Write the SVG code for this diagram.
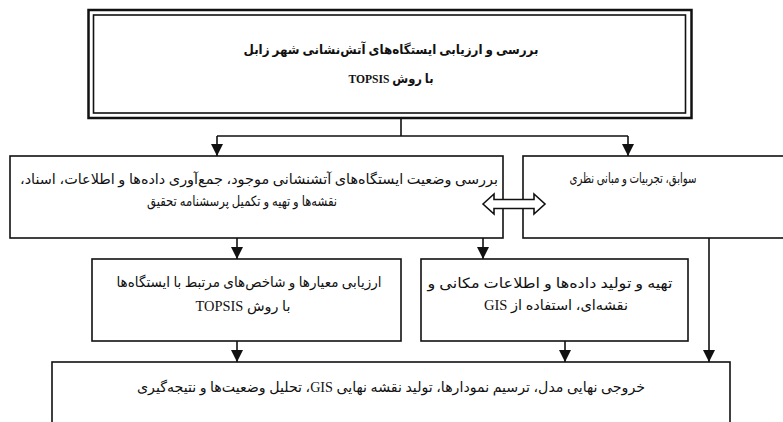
<svg xmlns="http://www.w3.org/2000/svg" width="783" height="422" viewBox="0 0 783 422">
<defs>
<style>
.box{fill:#fff;stroke:#111;stroke-width:1.6}
.outer{fill:#fff;stroke:#111;stroke-width:2.5}
.inner{fill:none;stroke:#111;stroke-width:1.6}
.t{font-family:"Liberation Serif","DejaVu Sans",serif;font-size:14px;fill:#111;text-anchor:middle}
.b{font-weight:bold;font-size:13px}
.ln{fill:none;stroke:#111;stroke-width:1.6}
.dbl{fill:#fff;stroke:#111;stroke-width:1.6;stroke-linejoin:miter}
</style>
<marker id="ah" markerUnits="userSpaceOnUse" viewBox="0 0 12 12" markerWidth="12" markerHeight="12" refX="12" refY="6" orient="auto">
<path d="M0,0 L12,6 L0,12 z" fill="#111"/>
</marker>
</defs>
<rect width="783" height="422" fill="#fff"/>

<g id="n-title">
<rect class="outer" x="88.5" y="10" width="603" height="108"/>
<rect class="inner" x="93.5" y="15" width="592" height="98"/>
<text class="t b" x="391" y="54" direction="rtl" textLength="295" lengthAdjust="spacingAndGlyphs">بررسی و ارزیابی ایستگاه‌های آتش‌نشانی شهر زابل</text>
<text class="t b" x="391" y="83" direction="rtl" textLength="85" lengthAdjust="spacingAndGlyphs">با روش TOPSIS</text>
</g>

<g id="n-survey">
<rect class="box" x="10" y="156" width="493" height="82"/>
<text class="t" x="259" y="184" direction="rtl" textLength="478" lengthAdjust="spacingAndGlyphs">بررسی وضعیت ایستگاه‌های آتشنشانی موجود، جمع‌آوری داده‌ها و اطلاعات، اسناد،</text>
<text class="t" x="242" y="206" direction="rtl" textLength="190" lengthAdjust="spacingAndGlyphs">نقشه‌ها و تهیه و تکمیل پرسشنامه تحقیق</text>
</g>

<g id="n-background">
<rect class="box" x="523" y="156" width="280" height="82"/>
<text class="t" x="633" y="183" direction="rtl" textLength="127" lengthAdjust="spacingAndGlyphs">سوابق، تجربیات و مبانی نظری</text>
</g>

<g id="n-topsis">
<rect class="box" x="92" y="259" width="309" height="82"/>
<text class="t" x="249" y="287" direction="rtl" textLength="265" lengthAdjust="spacingAndGlyphs">ارزیابی معیارها و شاخص‌های مرتبط با ایستگاه‌ها</text>
<text class="t" x="243" y="311" direction="rtl" textLength="95" lengthAdjust="spacingAndGlyphs">با روش TOPSIS</text>
</g>

<g id="n-gis">
<rect class="box" x="421" y="259" width="267" height="82"/>
<text class="t" x="550" y="288" direction="rtl" textLength="245" lengthAdjust="spacingAndGlyphs">تهیه و تولید داده‌ها و اطلاعات مکانی و</text>
<text class="t" x="556" y="310" direction="rtl" textLength="144" lengthAdjust="spacingAndGlyphs">نقشه‌ای، استفاده از GIS</text>
</g>

<g id="n-output">
<rect class="box" x="52" y="362" width="678" height="80"/>
<text class="t" x="391" y="392" direction="rtl" textLength="508" lengthAdjust="spacingAndGlyphs">خروجی نهایی مدل، ترسیم نمودارها، تولید نقشه نهایی GIS، تحلیل وضعیت‌ها و نتیجه‌گیری</text>
</g>

<g id="connectors">
<path class="ln" d="M401,118 V136 M217,136 H628"/>
<path class="ln" d="M217,136 V156" marker-end="url(#ah)"/>
<path class="ln" d="M628,136 V156" marker-end="url(#ah)"/>
<path class="ln" d="M237,238 V259" marker-end="url(#ah)"/>
<path class="ln" d="M483,238 V259" marker-end="url(#ah)"/>
<path class="ln" d="M237,341 V362" marker-end="url(#ah)"/>
<path class="ln" d="M565,341 V362" marker-end="url(#ah)"/>
<path class="ln" d="M709,238 V362" marker-end="url(#ah)"/>
<path class="dbl" d="M483,204 L494,194 L494,199.5 L534,199.5 L534,194 L545,204 L534,214 L534,208.5 L494,208.5 L494,214 Z"/>
</g>
</svg>
